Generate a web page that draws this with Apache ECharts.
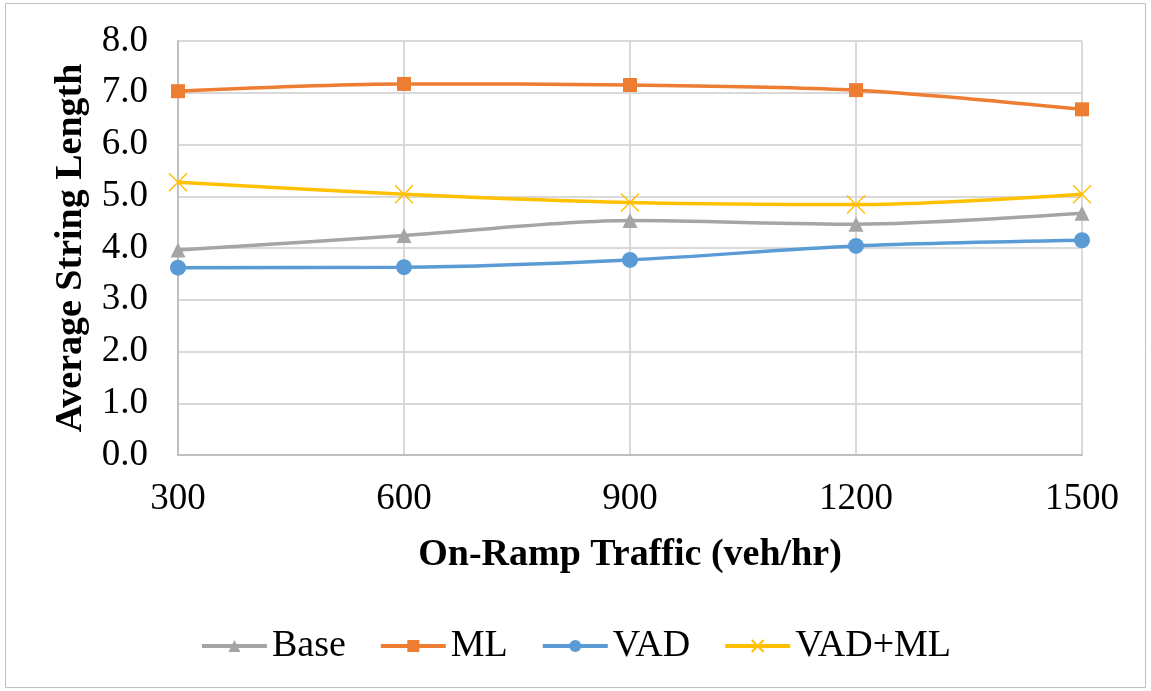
<!DOCTYPE html>
<html>
<head>
<meta charset="utf-8">
<script src="https://cdn.jsdelivr.net/npm/echarts@6/dist/echarts.min.js"></script>
<style>
  html, body { margin: 0; padding: 0; background: #fff; }
  #chart { width: 1151px; height: 691px; }
</style>
</head>
<body>
<div id="chart"></div>
<script>
// 横轴类别 (veh/hr)
const traffic = ['300', '600', '900', '1200', '1500'];
// 各方案的平均串长
const baseData = [3.96, 4.24, 4.53, 4.46, 4.67];
const mlData = [7.03, 7.17, 7.15, 7.05, 6.68];
const vadData = [3.62, 3.63, 3.77, 4.04, 4.15];
const vadMlData = [5.27, 5.04, 4.88, 4.84, 5.04];

const serif = '"Liberation Serif", "Times New Roman", serif';
const xMark = 'path://M0,0L10,10M10,0L0,10';

const chart = echarts.init(document.getElementById('chart'));

function makeSeries(name, data, color, symbol, size) {
  return {
    name: name,
    type: 'line',
    data: data,
    smooth: 0.3,
    symbol: symbol,
    symbolSize: size,
    lineStyle: { color: color, width: 3.5 },
    itemStyle: symbol === xMark
      ? { color: color, borderColor: color, borderWidth: 1.5 }
      : { color: color },
    emphasis: { disabled: true }
  };
}

chart.setOption({
  animation: false,
  graphic: [{
    type: 'rect',
    shape: { x: 5.5, y: 3.5, width: 1140, height: 684 },
    style: { fill: 'none', stroke: '#bfbfbf', lineWidth: 1 }
  }],
  grid: { left: 178, right: 69, top: 41, bottom: 236 },
  legend: {
    top: 622,
    left: 'center',
    itemWidth: 65,
    itemHeight: 15,
    itemGap: 33,
    lineStyle: { width: 4 },
    textStyle: { fontFamily: serif, fontSize: 38, color: '#000' },
    data: ['Base', 'ML', 'VAD', 'VAD+ML']
  },
  xAxis: {
    type: 'category',
    data: traffic,
    boundaryGap: false,
    name: 'On-Ramp Traffic (veh/hr)',
    nameLocation: 'middle',
    nameGap: 81,
    nameTextStyle: { fontFamily: serif, fontSize: 38, fontWeight: 'bold', color: '#000' },
    axisLine: { lineStyle: { color: '#bfbfbf', width: 2 } },
    axisTick: { show: false },
    axisLabel: { fontFamily: serif, fontSize: 37, color: '#000', margin: 26 },
    splitLine: { show: true, lineStyle: { color: '#d9d9d9', width: 2 } }
  },
  yAxis: {
    type: 'value',
    min: 0,
    max: 8,
    interval: 1,
    name: 'Average String Length',
    nameLocation: 'middle',
    nameGap: 88,
    nameTextStyle: { fontFamily: serif, fontSize: 38, fontWeight: 'bold', color: '#000' },
    axisLine: { show: true, lineStyle: { color: '#bfbfbf', width: 2 } },
    axisTick: { show: false },
    axisLabel: {
      fontFamily: serif, fontSize: 37, color: '#000', margin: 30,
      formatter: v => v.toFixed(1)
    },
    splitLine: { lineStyle: { color: '#d9d9d9', width: 2 } }
  },
  series: [
    makeSeries('Base', baseData, '#a5a5a5', 'triangle', 15),
    makeSeries('ML', mlData, '#ed7d31', 'rect', 14),
    makeSeries('VAD', vadData, '#5b9bd5', 'circle', 16),
    makeSeries('VAD+ML', vadMlData, '#ffc000', xMark, 18)
  ]
});
</script>
</body>
</html>
